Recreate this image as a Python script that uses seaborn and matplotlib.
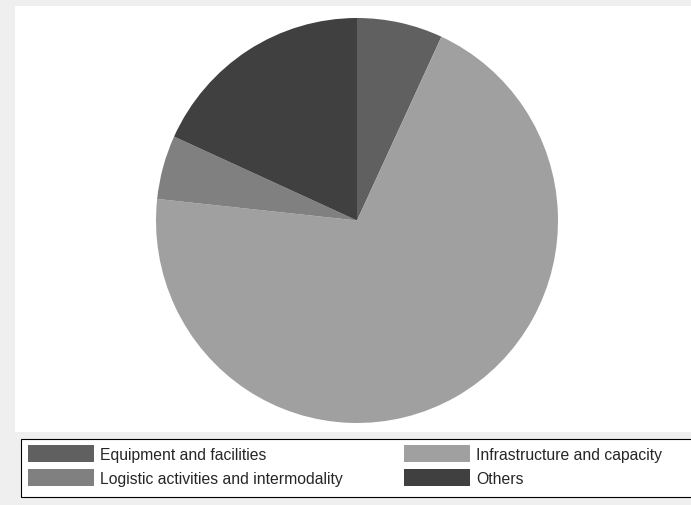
import matplotlib
matplotlib.use("Agg")
import matplotlib.pyplot as plt
import seaborn as sns
from matplotlib.patches import Rectangle, Patch

sns.set_style("white")
plt.rcParams['font.family'] = ['Liberation Sans', 'DejaVu Sans']

# Data (shares, in %)
categories = ['Equipment and facilities', 'Infrastructure and capacity',
              'Logistic activities and intermodality', 'Others']
shares = [6.9, 69.8, 5.1, 18.2]
colors = ['#606060', '#a0a0a0', '#808080', '#404040']

W, H = 691, 506
fig = plt.figure(figsize=(W / 100, H / 100), dpi=100, facecolor='#efefef')

# white plot panel
fig.patches.append(Rectangle((15 / W, 1 - 433 / H), 1, 426 / H,
                             transform=fig.transFigure, facecolor='white',
                             edgecolor='none', zorder=0))
# legend frame
fig.patches.append(Rectangle((21 / W, 1 - 498 / H), 1, 58 / H,
                             transform=fig.transFigure, facecolor='white',
                             edgecolor='black', linewidth=0.8, zorder=0))

ax = fig.add_axes([156 / W, 1 - 424 / H, 402 / W, 405 / H])
ax.set_zorder(2)
ax.pie(shares, colors=colors, startangle=90, counterclock=False,
       wedgeprops=dict(linewidth=0))
ax.set_xlim(-1, 1)
ax.set_ylim(-1, 1)
ax.set_aspect('auto')
ax.axis('off')

# legend fills column by column: reorder so rows read across
order = [0, 2, 1, 3]
handles = [Patch(facecolor=colors[i], edgecolor='none') for i in order]
labels = [categories[i] for i in order]
leg = fig.legend(handles, labels, ncol=2, frameon=False,
                 loc='upper left', bbox_to_anchor=(28 / W, 1 - 446 / H),
                 borderaxespad=0, borderpad=0,
                 fontsize=11.3, handlelength=4.2, handleheight=1.3,
                 handletextpad=0.4, columnspacing=3.9, labelspacing=0.45)
leg.set_zorder(3)

fig.savefig('out.png', dpi=100, facecolor=fig.get_facecolor())
